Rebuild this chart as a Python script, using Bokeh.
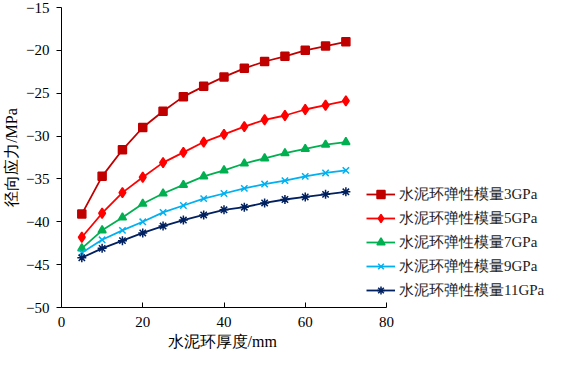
from bokeh.plotting import figure
from bokeh.models import Legend, LegendItem, FixedTicker, Range1d, Title
from bokeh.embed import file_html
from bokeh.resources import INLINE

# ---- data ----
thickness = [5, 10, 15, 20, 25, 30, 35, 40, 45, 50, 55, 60, 65, 70]
s3 = [-39.1, -34.7, -31.6, -29.0, -27.1, -25.4, -24.2, -23.1, -22.1, -21.3, -20.7, -20.0, -19.5, -19.0]
s5 = [-41.8, -39.0, -36.6, -34.8, -33.1, -31.9, -30.7, -29.8, -28.9, -28.1, -27.6, -26.9, -26.4, -25.9]
s7 = [-43.1, -41.0, -39.5, -37.9, -36.7, -35.7, -34.7, -34.0, -33.2, -32.6, -32.0, -31.5, -31.0, -30.7]
s9 = [-43.6, -42.1, -41.0, -40.0, -38.9, -38.1, -37.3, -36.7, -36.1, -35.6, -35.2, -34.7, -34.3, -34.0]
s11 = [-44.2, -43.1, -42.2, -41.3, -40.5, -39.8, -39.2, -38.6, -38.3, -37.8, -37.4, -37.1, -36.8, -36.5]
labels = ["水泥环弹性模量3GPa", "水泥环弹性模量5GPa", "水泥环弹性模量7GPa",
          "水泥环弹性模量9GPa", "水泥环弹性模量11GPa"]
x_title = "水泥环厚度/mm"
y_title = "径向应力/MPa"
x_ticks = [0, 20, 40, 60, 80]
y_ticks = [-50, -45, -40, -35, -30, -25, -20, -15]

series = [s3, s5, s7, s9, s11]
colors = ["#C00000", "#FF0000", "#00B050", "#00B0F0", "#002060"]
markers = ["square", "diamond", "triangle", "x", "asterisk"]
msizes = [8, 10, 8, 9, 9]

SERIF = "Liberation Serif"

W, H = 545, 350
LEFT, TOP, BOTTOM = 61, 7, 42
AXIS_PX = 325                        # pixels spanned by 0..80 on the x axis
frame_w = W - LEFT
x_end = 80 * frame_w / AXIS_PX       # frame reaches the right edge so the legend is not clipped

p = figure(width=W, height=H, output_backend="svg", toolbar_location=None,
           x_range=Range1d(0, x_end), y_range=Range1d(-50, -15),
           min_border_left=LEFT, min_border_right=0, min_border_top=TOP, min_border_bottom=BOTTOM)
p.outline_line_color = None
p.xgrid.visible = False
p.ygrid.visible = False
p.background_fill_color = "white"
p.border_fill_color = "white"

items = []
for ys, c, m, s, lab in zip(series, colors, markers, msizes, labels):
    lr = p.line(thickness, ys, line_color=c, line_width=1.8)
    sr = p.scatter(thickness, ys, marker=m, size=s, fill_color=c, line_color=c, line_width=1.5)
    items.append(LegendItem(label=lab, renderers=[lr, sr]))

legend = Legend(items=items, location=(305, 7), orientation="vertical",
                glyph_width=29, glyph_height=20, label_height=20, spacing=4,
                label_standoff=4, padding=0, margin=0,
                border_line_color=None, background_fill_alpha=0,
                label_text_font=SERIF, label_text_font_size="15px",
                label_text_color="#222222")
p.add_layout(legend)

xa = p.xaxis[0]
xa.bounds = (0, 80)
xa.ticker = FixedTicker(ticks=x_ticks)
xa.major_tick_in = 5
xa.major_tick_out = 0
xa.minor_tick_line_color = None
xa.major_label_standoff = 9
xa.major_label_text_font = SERIF
xa.major_label_text_font_size = "15px"
xa.major_label_text_color = "black"
xa.axis_line_color = "black"
xa.major_tick_line_color = "black"

# x-axis title, centred under the 0..80 part of the axis
p.add_layout(Title(text=x_title, align="left", offset=106, standoff=2,
                   text_font=SERIF, text_font_size="16px", text_font_style="normal",
                   text_color="black"), "below")

ya = p.yaxis[0]
ya.ticker = FixedTicker(ticks=y_ticks)
ya.major_tick_in = 0
ya.major_tick_out = 5
ya.minor_tick_line_color = None
ya.major_label_standoff = 7
ya.major_label_text_font = SERIF
ya.major_label_text_font_size = "15px"
ya.major_label_text_color = "black"
ya.axis_label = y_title
ya.axis_label_text_font = SERIF
ya.axis_label_text_font_size = "16px"
ya.axis_label_text_font_style = "normal"
ya.axis_label_text_color = "black"
ya.axis_label_standoff = 3
ya.axis_line_color = "black"
ya.major_tick_line_color = "black"

open("out.html", "w").write(file_html(p, INLINE))
